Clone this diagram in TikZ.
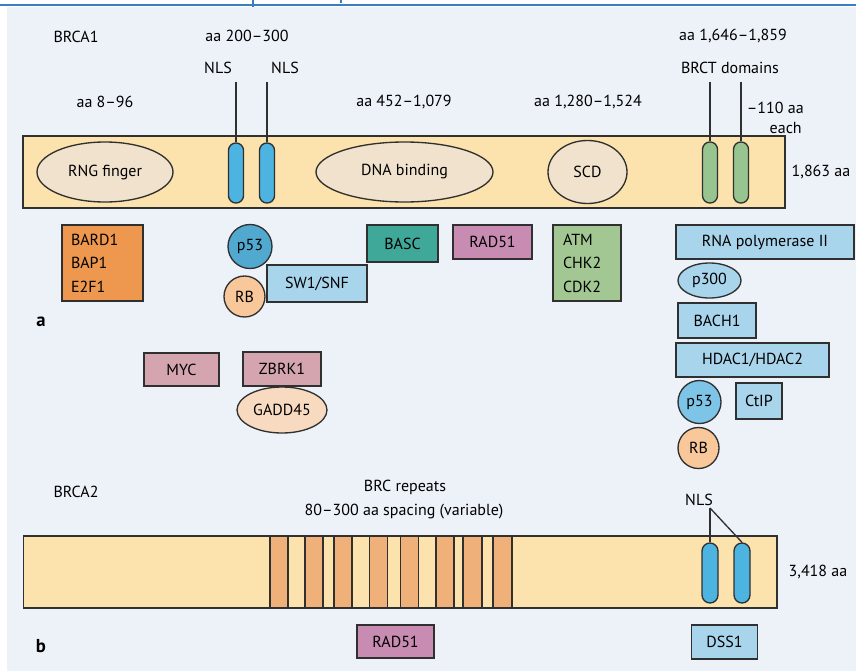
\documentclass[tikz,border=0pt]{standalone}
\usepackage{fontspec}
\setmainfont{PT Sans}
\usetikzlibrary{shapes.geometric}
\definecolor{bg}{HTML}{EDF2F9}
\definecolor{topblue}{HTML}{3A7DC0}
\definecolor{edge}{HTML}{303030}
\definecolor{barfill}{HTML}{FCE2AC}
\definecolor{dom}{HTML}{F0E2CC}
\definecolor{nlsblue}{HTML}{4DB3E0}
\definecolor{brctgreen}{HTML}{98C48F}
\definecolor{brc}{HTML}{F0B07A}
\definecolor{bardorange}{HTML}{EE974E}
\definecolor{pfiftya}{HTML}{52A9D0}
\definecolor{pfiftyb}{HTML}{7DC4E6}
\definecolor{rbcol}{HTML}{F8C89A}
\definecolor{lightblue}{HTML}{A8D4EC}
\definecolor{basc}{HTML}{40A898}
\definecolor{radcol}{HTML}{C88CB3}
\definecolor{atmgreen}{HTML}{A2C792}
\definecolor{mauve}{HTML}{D4A4AF}
\definecolor{gadd}{HTML}{F8DAC0}
\tikzset{
  sz/.style 2 args={minimum width=#1*0.75pt, minimum height=#2*0.75pt},
  shp/.style={draw=edge, line width=1pt, inner sep=0pt},
  rbox/.style={shp, rectangle},
  ell/.style={shp, ellipse},
  circ/.style={shp, circle},
  caps/.style={shp, rectangle, rounded corners=5.5pt},
  lbl/.style={inner sep=0pt},
  lead/.style={draw=edge, line width=1pt},
  panel/.style={inner sep=0pt, font=\fontsize{14}{16}\selectfont\bfseries},
  stripe/.style={rbox, fill=brc, minimum height=72*0.75pt}
}
\begin{document}
\begin{tikzpicture}[x=0.75pt,y=-0.75pt, font=\fontsize{12}{14}\selectfont]
\useasboundingbox (0,0) rectangle (856,671);
\fill[bg] (7,7) rectangle (856,671);
\draw[topblue, line width=1.5pt] (0,4.5) -- (856,4.5);
\draw[topblue, line width=1.5pt] (253,0) -- (253,7);
\draw[topblue, line width=1.5pt] (341,0) -- (341,3);

% ---------- BRCA1 ----------
\node[lbl] (brcaone) at (76,37) {BRCA1};
\node[lbl] (aatwo) at (247,36) {aa 200–300};
\node[lbl] (aabrct) at (733,36) {aa 1,646–1,859};
\node[lbl] (nlsla) at (218,68) {NLS};
\node[lbl] (nlslb) at (285,68) {NLS};
\node[lbl] (brctl) at (730,68) {BRCT domains};
\node[lbl] (aaeight) at (105,102) {aa 8–96};
\node[lbl] (aafour) at (404,102) {aa 452–1,079};
\node[lbl] (aatwelve) at (588,102) {aa 1,280–1,524};
\node[lbl, anchor=east] (oneten) at (804,108) {–110 aa};
\node[lbl, anchor=east] (each) at (802,128) {each};

\node[rbox, fill=barfill, sz={762}{72}] (barone) at (404,172) {};
\node[lbl] (lenone) at (821,172) {1,863 aa};
\node[ell, fill=dom, sz={136}{60}] (rng) at (105,172) {RNG finger};
\node[ell, fill=dom, sz={177}{60}] (dna) at (404.5,172) {DNA binding};
\node[ell, fill=dom, sz={79}{63}] (scd) at (587.5,172) {SCD};
\node[caps, fill=nlsblue, sz={15}{60}] (nlsa) at (236,173) {};
\node[caps, fill=nlsblue, sz={15}{60}] (nlsb) at (267,173) {};
\node[caps, fill=brctgreen, sz={15}{61}] (brcta) at (710,172.5) {};
\node[caps, fill=brctgreen, sz={15}{61}] (brctb) at (741,172.5) {};
\coordinate (nlsatop) at (236,82);
\coordinate (nlsbtop) at (267,82);
\coordinate (brctatop) at (710,82);
\coordinate (brctbtop) at (741,82);
\draw[lead] (nlsatop) -- (nlsa.north);
\draw[lead] (nlsbtop) -- (nlsb.north);
\draw[lead] (brctatop) -- (brcta.north);
\draw[lead] (brctbtop) -- (brctb.north);

% ---------- BRCA1 partners ----------
\node[rbox, fill=bardorange, minimum height=76*0.75pt, text width=63*0.75pt, inner xsep=9*0.75pt, align=left,
      font=\fontsize{12}{17.6}\selectfont] (bard) at (102.5,263) {BARD1\\BAP1\\E2F1};
\node[circ, fill=pfiftya, sz={44}{44}] (pfa) at (250,246.5) {p53};
\node[circ, fill=rbcol, sz={41}{41}] (rba) at (244.5,296.5) {RB};
\node[rbox, fill=lightblue, sz={100}{37}] (swi) at (317,283.5) {SW1/SNF};
\node[rbox, fill=basc, sz={71}{37}] (bascn) at (402.5,243.5) {BASC};
\node[rbox, fill=radcol, sz={79}{34}] (rada) at (492.5,242) {RAD51};
\node[rbox, fill=atmgreen, minimum height=76*0.75pt, text width=48*0.75pt, inner xsep=10*0.75pt, align=left,
      font=\fontsize{12}{17.6}\selectfont] (atm) at (587,263) {ATM\\CHK2\\CDK2};
\node[rbox, fill=lightblue, sz={178}{34}] (rnap) at (765,242) {RNA polymerase II};
\node[ell, fill=lightblue, sz={63}{35}] (pthree) at (709.5,280.5) {p300};
\node[rbox, fill=lightblue, sz={78}{35}] (bach) at (717,320.5) {BACH1};
\node[rbox, fill=lightblue, sz={153}{34}] (hdac) at (752.5,360) {HDAC1/HDAC2};
\node[circ, fill=pfiftyb, sz={43}{43}] (pfb) at (699.5,402) {p53};
\node[rbox, fill=lightblue, sz={46}{36}] (ctip) at (759,401) {CtIP};
\node[circ, fill=rbcol, sz={41}{41}] (rbb) at (698.5,448) {RB};
\node[panel] (pa) at (41,322) {a};
\node[rbox, fill=mauve, sz={75}{33}] (myc) at (181.5,369.5) {MYC};
\node[rbox, fill=mauve, sz={78}{34}] (zbrk) at (282,369) {ZBRK1};
\node[ell, fill=gadd, sz={90}{46}] (gadd) at (282,410) {GADD45};

% ---------- BRCA2 ----------
\node[lbl] (brcatwo) at (76,492) {BRCA2};
\node[lbl] (brcrep) at (405,487) {BRC repeats};
\node[lbl] (spacing) at (404,512) {80–300 aa spacing (variable)};
\node[lbl] (nlstwol) at (699,500) {NLS};
\node[rbox, fill=barfill, sz={753.5}{72}] (bartwo) at (400.25,572) {};
\node[lbl] (lentwo) at (818,572) {3,418 aa};
\node[stripe, minimum width=18*0.75pt] (sa) at (279,572) {};
\node[stripe, minimum width=18*0.75pt] (sb) at (314,572) {};
\node[stripe, minimum width=18*0.75pt] (sc) at (343,572) {};
\node[stripe, minimum width=17.5*0.75pt] (sd) at (378.5,572) {};
\node[stripe, minimum width=17.5*0.75pt] (se) at (409.5,572) {};
\node[stripe, minimum width=18*0.75pt] (sf) at (445,572) {};
\node[stripe, minimum width=19*0.75pt] (sg) at (472.5,572) {};
\node[stripe, minimum width=19*0.75pt] (sh) at (502.5,572) {};
\node[caps, fill=nlsblue, sz={16}{60}, rounded corners=6pt] (nlsc) at (710,573) {};
\node[caps, fill=nlsblue, sz={16}{60}, rounded corners=6pt] (nlsd) at (742,573) {};
\coordinate (nlsfork) at (710,508);
\draw[lead] (nlsfork) -- (nlsc.north);
\draw[lead] (nlsfork) -- (nlsd.north);
\node[rbox, fill=radcol, sz={77}{33}] (radb) at (395.5,641.5) {RAD51};
\node[rbox, fill=lightblue, sz={66}{34}] (dss) at (724.5,642) {DSS1};
\node[panel] (pb) at (41,646) {b};
\end{tikzpicture}
\end{document}
